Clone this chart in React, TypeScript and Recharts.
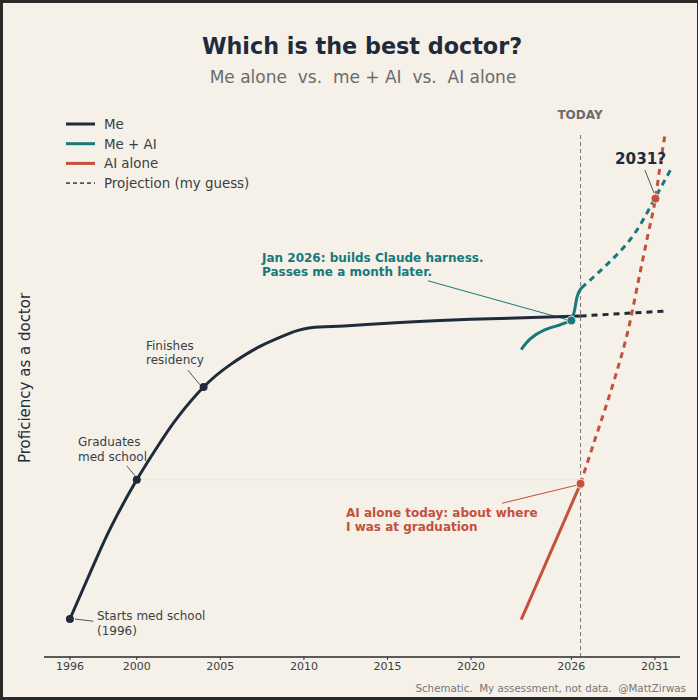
import { LineChart, Line, XAxis, YAxis, ReferenceLine, ReferenceDot } from 'recharts';

const FONT = '"DejaVu Sans", sans-serif';
const INK = '#1f2b3a';
const TEAL = '#17797a';
const RUST = '#c2513d';
const PAPER = '#f5f0e8';
const FRAME = '#2a2a28';
const NOTE = '#3b3f45';

const YEAR_TICKS = [1996, 2000, 2005, 2010, 2015, 2020, 2026, 2031];
const TODAY = 2026.55;

// Me alone: training climb, then the long plateau
const meClimbYears = [1996, 1997.45, 1998.45, 2000, 2001.45, 2002.4, 2004, 2005.6, 2007.4, 2009.4];
const meClimbLevels = [6.8, 16.7, 23.2, 31.7, 38.6, 42.7, 48.3, 52.3, 55.6, 58.2];
const mePlateauYears = [2009.4, 2010.4, 2012.4, 2015, 2020, TODAY];
const mePlateauLevels = [58.2, 58.9, 59.2, 59.7, 60.4, 61.0];
const meProjYears = [TODAY, 2031.7];
const meProjLevels = [61.0, 61.9];

// Me + AI
const teamYears = [2023.0, 2023.54, 2024.4, 2025.3, 2026.0];
const teamLevels = [55.0, 56.9, 58.5, 59.4, 60.2];
const teamJumpYears = [2026.0, 2026.15, 2026.35, 2026.6];
const teamJumpLevels = [60.2, 61.5, 64.5, 66.0];
const teamProjYears = [2026.6, 2027.7, 2028.7, 2029.7, 2030.5, 2031.1, 2032.0];
const teamProjLevels = [66.0, 69.0, 71.9, 75.4, 79.3, 82.6, 87.5];

// AI alone
const aiYears = [2023.0, TODAY];
const aiLevels = [6.7, 31.0];
const aiProjYears = [TODAY, 2027.4, 2028.0, 2028.6, 2029.4, 2030.1, 2030.6, 2031.03, 2031.3, 2031.6];
const aiProjLevels = [31.0, 38.8, 44.2, 49.9, 58.5, 68.6, 75.8, 82.0, 87.7, 93.4];

const milestoneYears = [1996, 2000, 2004];
const GRAD_LEVEL = 31.7;
const HARNESS = { year: 2026.0, level: 60.2 };
const AI_NOW = { year: TODAY, level: 31.0 };
const CROSSOVER = { year: 2031.03, level: 82.0 };

// leader lines from labels to points: [x1, y1, x2, y2, colour]
const leaders: [number, number, number, number, string][] = [
  [1996.3, 6.8, 1997.4, 6.4, '#555'],
  [1999.4, 34.2, 1999.9, 32.4, '#555'],
  [2003.06, 51.3, 2003.78, 48.7, '#555'],
  [2017.42, 67.3, 2025.8, 60.3, TEAL],
  [2021.85, 27.5, 2026.4, 30.8, RUST],
  [2030.4, 87.1, 2030.95, 83.0, '#555'],
];

const toPoints = (xs: number[], ys: number[]) => xs.map((year, i) => ({ year, level: ys[i] }));
const levelAt = (year: number) => meClimbLevels[meClimbYears.indexOf(year)];

const legendItems = [
  { label: 'Me', color: INK, dash: undefined, width: 3 },
  { label: 'Me + AI', color: TEAL, dash: undefined, width: 3 },
  { label: 'AI alone', color: RUST, dash: undefined, width: 3 },
  { label: 'Projection (my guess)', color: '#555', dash: '4 3', width: 1.6 },
];

export default function App() {
  return (
    <div style={{ position: 'absolute', left: 0, top: 0, width: 698, height: 700, background: FRAME, fontFamily: FONT }}>
      <div style={{ position: 'absolute', left: 3, top: 3, width: 694, height: 694, background: PAPER }} />
      <div style={{ position: 'absolute', left: 0, top: 0 }}>
        <LineChart width={698} height={700} margin={{ top: 98, right: 18, bottom: 0, left: 44 }}>
          <XAxis
            type="number"
            dataKey="year"
            domain={[1994.45, 2032.5]}
            ticks={YEAR_TICKS}
            allowDataOverflow
            height={43}
            tickSize={3}
            axisLine={{ stroke: '#2a2a2a', strokeWidth: 1.3 }}
            tickLine={{ stroke: '#2a2a2a' }}
            tick={{ fontSize: 11, fill: '#3a3f47', fontFamily: FONT }}
          />
          <YAxis
            type="number"
            domain={[0, 100]}
            allowDataOverflow
            width={0}
            tick={false}
            tickLine={false}
            axisLine={{ stroke: '#2a2a2a', strokeWidth: 1.3 }}
          />
          <ReferenceLine
            segment={[{ x: 2000, y: GRAD_LEVEL }, { x: TODAY, y: GRAD_LEVEL }]}
            stroke="#c9c3b6"
            strokeDasharray="1 3"
            ifOverflow="visible"
          />
          <ReferenceLine
            segment={[{ x: TODAY, y: 0 }, { x: TODAY, y: 93.7 }]}
            stroke="#777"
            strokeDasharray="4 3"
            ifOverflow="visible"
          />
          {leaders.map(([x1, y1, x2, y2, c], i) => (
            <ReferenceLine
              key={i}
              segment={[{ x: x1, y: y1 }, { x: x2, y: y2 }]}
              stroke={c}
              strokeWidth={1}
              ifOverflow="visible"
            />
          ))}
          <Line data={toPoints(meClimbYears, meClimbLevels)} dataKey="level" type="natural" stroke={INK} strokeWidth={3} dot={false} isAnimationActive={false} />
          <Line data={toPoints(mePlateauYears, mePlateauLevels)} dataKey="level" type="monotone" stroke={INK} strokeWidth={3} dot={false} isAnimationActive={false} />
          <Line data={toPoints(meProjYears, meProjLevels)} dataKey="level" type="linear" stroke={INK} strokeWidth={3} strokeDasharray="6 5" dot={false} isAnimationActive={false} />
          <Line data={toPoints(teamYears, teamLevels)} dataKey="level" type="natural" stroke={TEAL} strokeWidth={3} dot={false} isAnimationActive={false} />
          <Line data={toPoints(teamJumpYears, teamJumpLevels)} dataKey="level" type="monotone" stroke={TEAL} strokeWidth={3} dot={false} isAnimationActive={false} />
          <Line data={toPoints(teamProjYears, teamProjLevels)} dataKey="level" type="natural" stroke={TEAL} strokeWidth={3} strokeDasharray="6 5" dot={false} isAnimationActive={false} />
          <Line data={toPoints(aiYears, aiLevels)} dataKey="level" type="linear" stroke={RUST} strokeWidth={3} dot={false} isAnimationActive={false} />
          <Line data={toPoints(aiProjYears, aiProjLevels)} dataKey="level" type="monotone" stroke={RUST} strokeWidth={3} strokeDasharray="6 5" dot={false} isAnimationActive={false} />
          {milestoneYears.map((y) => (
            <ReferenceDot key={y} x={y} y={levelAt(y)} r={4} fill={INK} stroke="none" ifOverflow="visible" />
          ))}
          <ReferenceDot x={HARNESS.year} y={HARNESS.level} r={4.5} fill={TEAL} stroke={PAPER} strokeWidth={1} ifOverflow="visible" />
          <ReferenceDot x={AI_NOW.year} y={AI_NOW.level} r={4.5} fill={RUST} stroke={PAPER} strokeWidth={1} ifOverflow="visible" />
          <ReferenceDot x={CROSSOVER.year} y={CROSSOVER.level} r={4.5} fill={RUST} stroke={PAPER} strokeWidth={1} ifOverflow="visible" />
        </LineChart>
      </div>
      <svg width={698} height={700} style={{ position: 'absolute', left: 0, top: 0, pointerEvents: 'none' }} fontFamily={FONT}>
        <text x={362} y={53.5} textAnchor="middle" fontSize={22.3} fontWeight="bold" fill={INK}>Which is the best doctor?</text>
        <text x={363} y={83} textAnchor="middle" fontSize={17} fill="#6b6b6b" style={{ whiteSpace: 'pre' }}>
          {'Me alone  vs.  me + AI  vs.  AI alone'}
        </text>
        <text transform="translate(30,378) rotate(-90)" textAnchor="middle" fontSize={15} fill={INK}>Proficiency as a doctor</text>
        <text x={580} y={118.5} textAnchor="middle" fontSize={12} fontWeight="bold" fill="#6b6b6b">TODAY</text>
        {legendItems.map((it, i) => {
          const cy = 124 + i * 19.7;
          return (
            <g key={it.label}>
              <line x1={66} x2={95} y1={cy} y2={cy} stroke={it.color} strokeWidth={it.width} strokeDasharray={it.dash} />
              <text x={104} y={cy + 4.8} fontSize={13.4} fill={NOTE}>{it.label}</text>
            </g>
          );
        })}
        <text fontSize={12} fill={NOTE}>
          <tspan x={97} y={620}>Starts med school</tspan>
          <tspan x={97} y={635}>(1996)</tspan>
        </text>
        <text fontSize={12} fill={NOTE}>
          <tspan x={78} y={446}>Graduates</tspan>
          <tspan x={78} y={461}>med school</tspan>
        </text>
        <text fontSize={12} fill={NOTE}>
          <tspan x={146} y={350}>Finishes</tspan>
          <tspan x={146} y={364}>residency</tspan>
        </text>
        <text fontSize={12} fontWeight="bold" fill={TEAL}>
          <tspan x={262} y={261.5}>Jan 2026: builds Claude harness.</tspan>
          <tspan x={262} y={275.5}>Passes me a month later.</tspan>
        </text>
        <text fontSize={12} fontWeight="bold" fill={RUST}>
          <tspan x={346} y={516.5}>AI alone today: about where</tspan>
          <tspan x={346} y={530.5}>I was at graduation</tspan>
        </text>
        <text x={615} y={163.5} fontSize={15.2} fontWeight="bold" fill={INK}>2031?</text>
        <text x={686} y={691.5} textAnchor="end" fontSize={10.3} fill="#777" style={{ whiteSpace: 'pre' }}>
          {'Schematic.  My assessment, not data.  @MattZirwas'}
        </text>
      </svg>
    </div>
  );
}
